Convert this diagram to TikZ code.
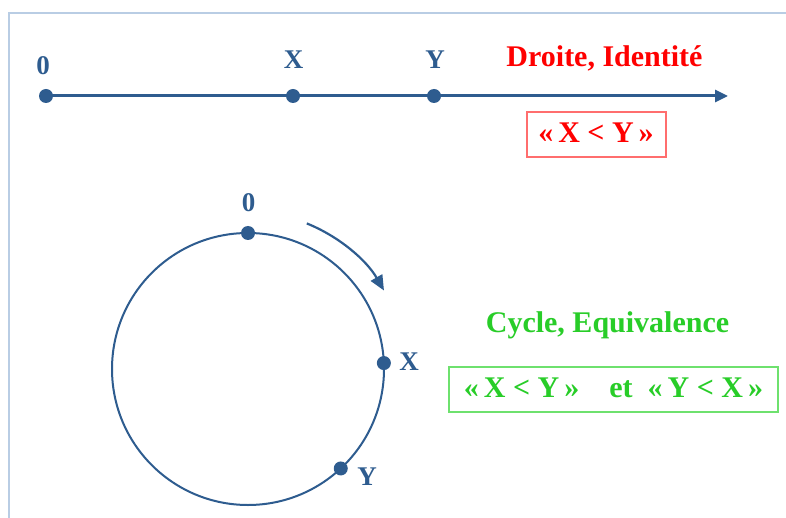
\documentclass[tikz,border=0pt]{standalone}
\usepackage{fontspec}
\setmainfont{Liberation Serif}
\usetikzlibrary{arrows.meta,calc}
\definecolor{lineblue}{RGB}{46,92,143}
\definecolor{framec}{RGB}{185,205,228}
\definecolor{redt}{RGB}{255,0,0}
\definecolor{redbox}{RGB}{255,110,110}
\definecolor{greent}{RGB}{40,205,40}
\definecolor{greenbox}{RGB}{110,225,110}
\tikzset{
  dot/.style={circle,fill=lineblue,inner sep=0pt,minimum size=14pt},
  lbl/.style={font=\bfseries\fontsize{27}{30}\selectfont,text=lineblue,inner sep=0pt,anchor=base},
  redlbl/.style={font=\bfseries\fontsize{30}{32}\selectfont,text=redt,inner sep=0pt,anchor=base},
  greenlbl/.style={font=\bfseries\fontsize{30}{32}\selectfont,text=greent,inner sep=0pt,anchor=base},
  axis/.style={draw=lineblue,line width=3pt},
}
\begin{document}
\begin{tikzpicture}[x=1pt,y=-1pt]
\useasboundingbox[fill=white] (0,0) rectangle (786,518);
% frame
\draw[framec,line width=2pt] (9,518) -- (9,13) -- (786,13);
% straight line
\node[dot] (a0) at (46,96) {};
\node[dot] (ax) at (293,96) {};
\node[dot] (ay) at (434,96) {};
\coordinate (aend) at (728,96);
\draw[axis,-{Triangle[length=13pt,width=12pt]}] (a0.center) -- (aend);
\node[lbl] (t0) at (43,75) {0};
\node[lbl] (tx) at (293.5,69) {X};
\node[lbl] (ty) at (435,69) {Y};
\node[redlbl] (droite) at (604.5,67) {Droite, Identité};
\draw[redbox,line width=1.2pt] (527,112) rectangle (666,157);
\node[redlbl] (rtext) at (596,143) {«\,X < Y\,»};
% circle
\coordinate (c) at (248,369);
\draw[lineblue,line width=2pt] (c) circle[radius=136];
\node[dot] (c0) at ($(c)+(-90:136)$) {};
\node[dot] (cx) at ($(c)+(-2.5:136)$) {};
\node[dot] (cy) at ($(c)+(47:136)$) {};
\node[lbl] (u0) at (248.5,212) {0};
\node[lbl] (ux) at (409,370) {X};
\node[lbl] (uy) at (367,485) {Y};
\coordinate (arcs) at ($(c)+(-68:157)$);
\draw[lineblue,line width=2.2pt,-{Triangle[length=15pt,width=13pt]}] (arcs) arc[start angle=-68,end angle=-30,radius=157];
% green
\node[greenlbl] (cycle) at (607.5,332) {Cycle, Equivalence};
\draw[greenbox,line width=1.2pt] (449,367) rectangle (778,412);
\node[greenlbl] (gtext) at (613.5,397) {«\,X < Y\,»\quad et \ «\,Y < X\,»};
\end{tikzpicture}
\end{document}
